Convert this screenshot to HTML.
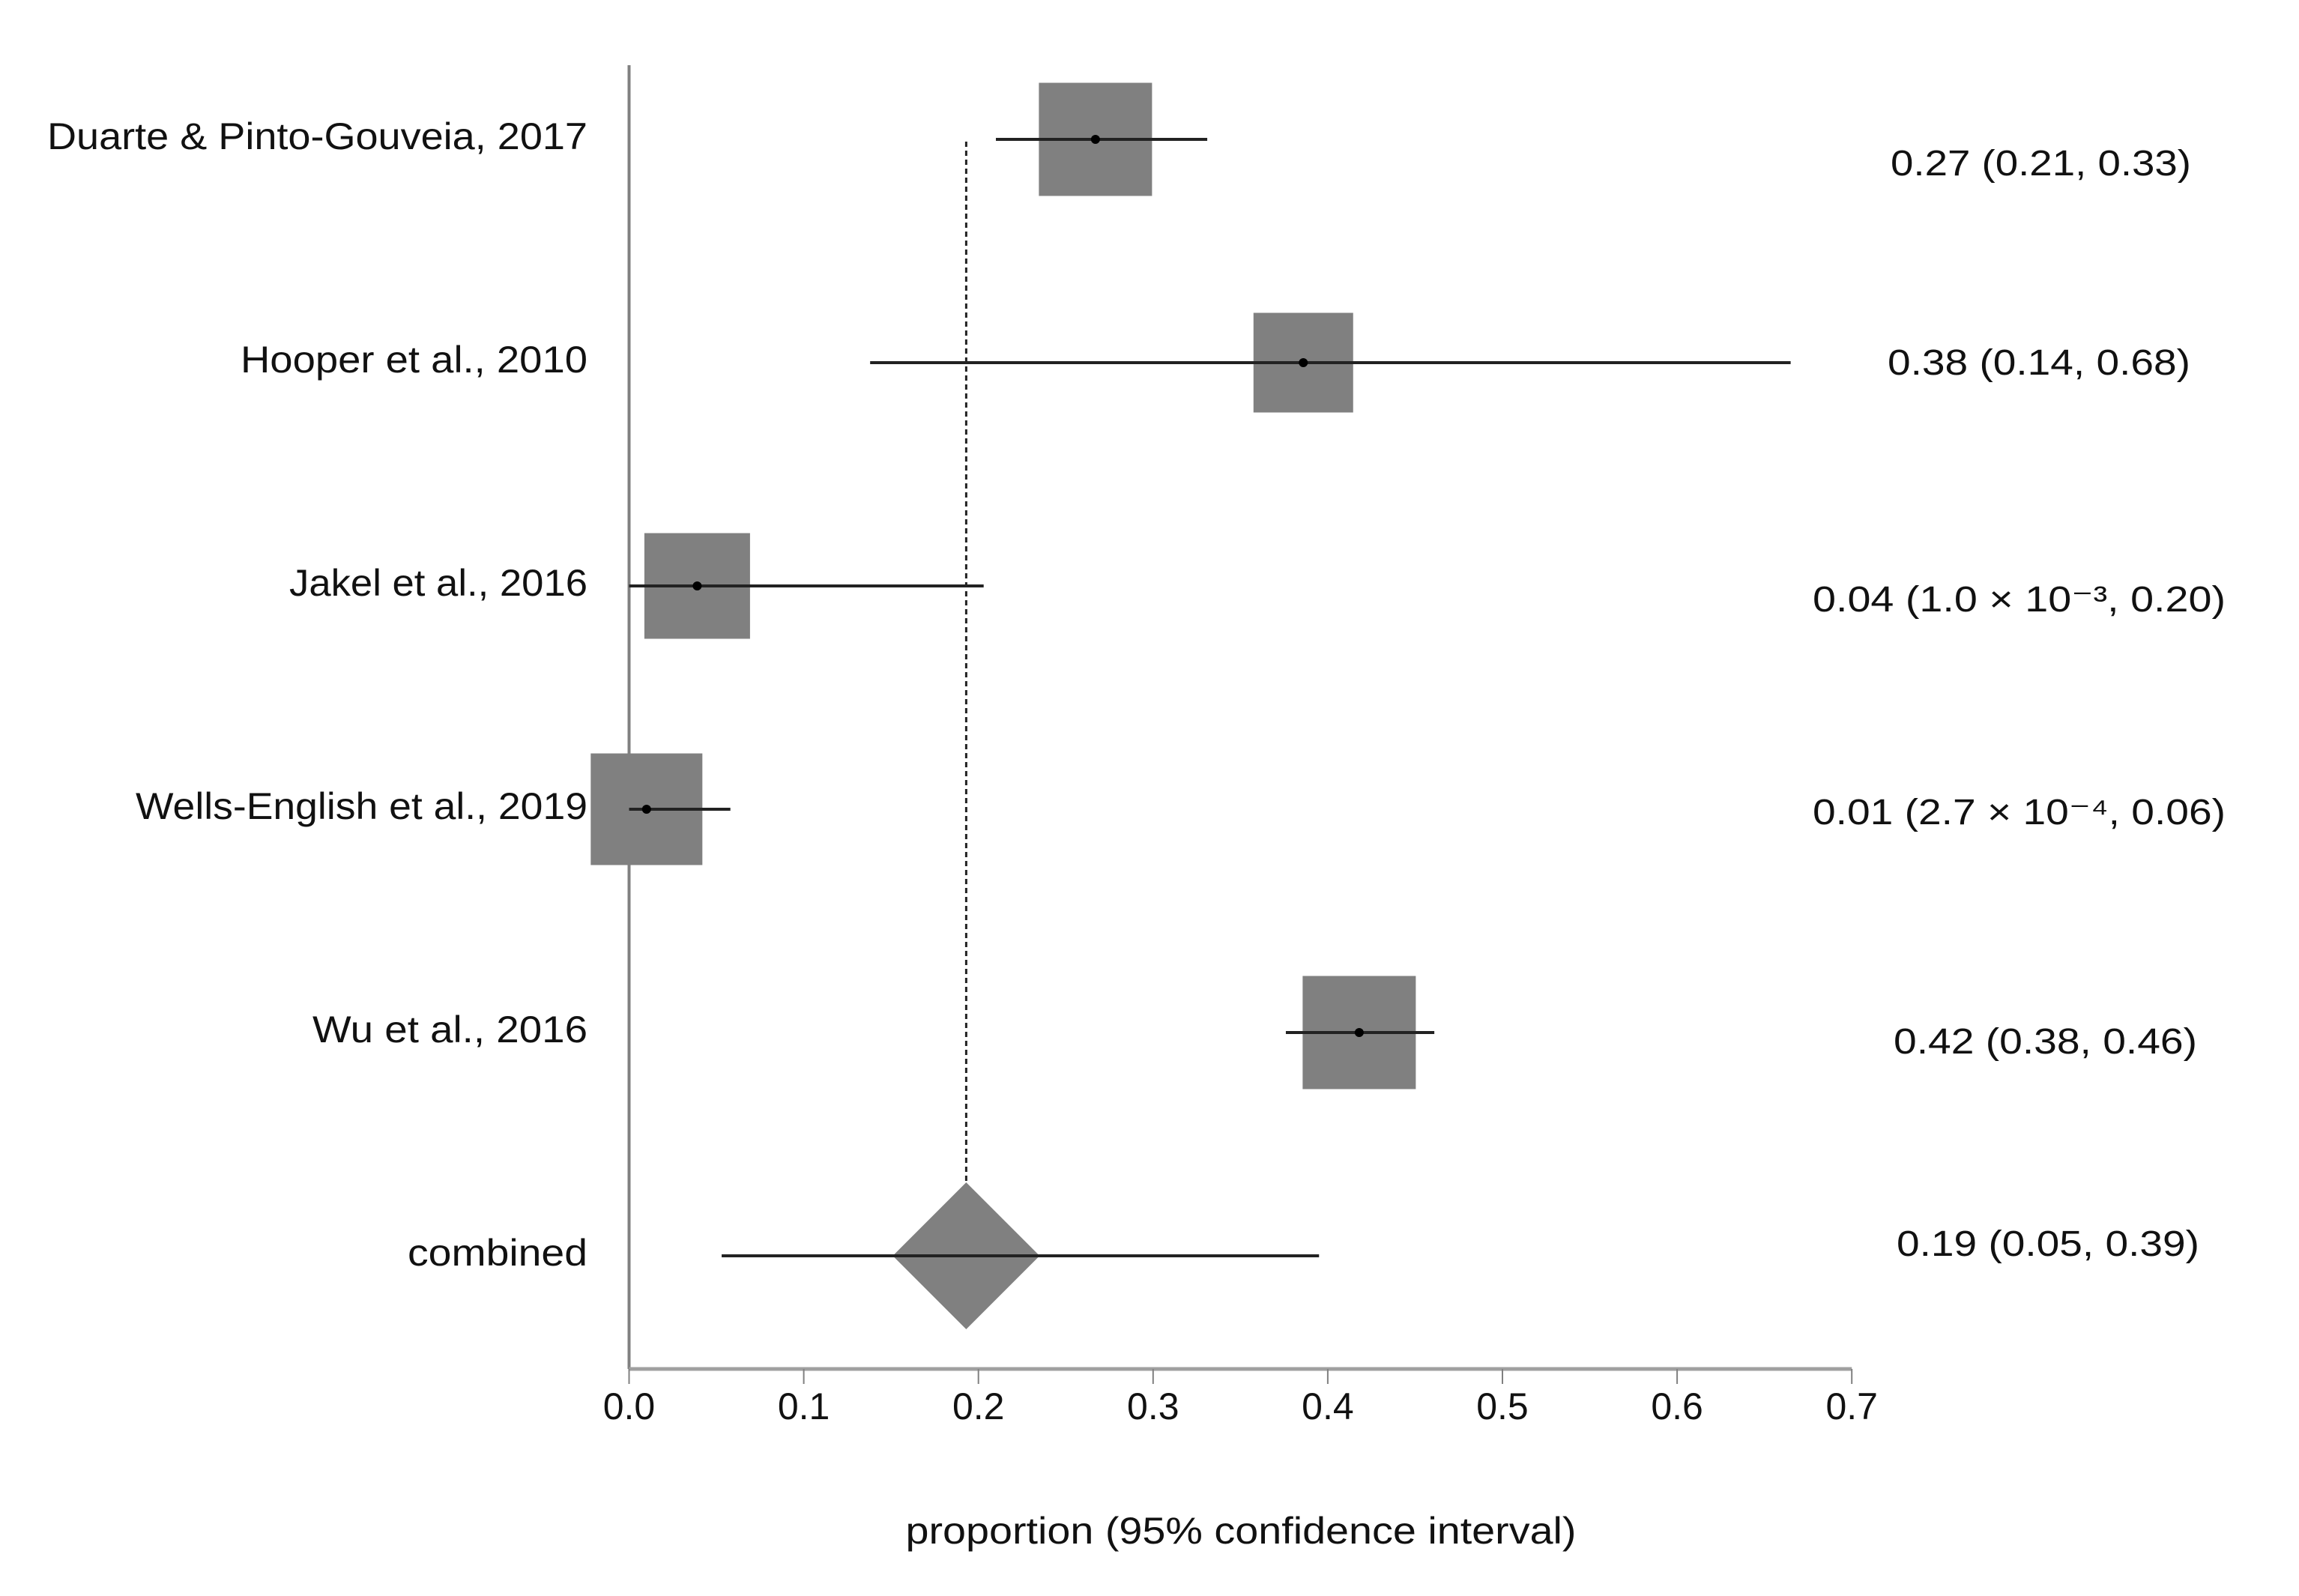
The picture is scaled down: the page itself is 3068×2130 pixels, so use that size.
<!DOCTYPE html>
<html><head><meta charset="utf-8"><style>html,body{margin:0;padding:0;background:#fff}svg{display:block}text{font-family:"Liberation Sans",sans-serif;fill:#111}</style></head>
<body>
<svg id="chart" width="3068" height="2130" viewBox="0 0 3068 2130" xmlns="http://www.w3.org/2000/svg"></svg>
<script>
const studies = ["Duarte & Pinto-Gouveia, 2017","Hooper et al., 2010","Jakel et al., 2016","Wells-English et al., 2019","Wu et al., 2016","combined"];
const estimates = [0.267, 0.386, 0.039, 0.010, 0.418, 0.193];
const lowers = [0.210, 0.138, 0.0, 0.0, 0.376, 0.053];
const uppers = [0.331, 0.665, 0.203, 0.058, 0.461, 0.395];
const weights = [151, 133, 141, 149, 151, 196];
const summaries = ["0.27 (0.21, 0.33)","0.38 (0.14, 0.68)","0.04 (1.0 × 10⁻³, 0.20)","0.01 (2.7 × 10⁻⁴, 0.06)","0.42 (0.38, 0.46)","0.19 (0.05, 0.39)"];
const tickValues = [0,0.1,0.2,0.3,0.4,0.5,0.6,0.7];
const tickLabels = ["0.0","0.1","0.2","0.3","0.4","0.5","0.6","0.7"];

const NS="http://www.w3.org/2000/svg", svg=document.getElementById('chart');
const x0=839.5, xs=2331, axisY=1827;
const xf=v=>x0+v*xs;
const yf=i=>186+i*298;
const sumY=[218,484,800,1084,1390,1660];
const sumW=[401,404,551,551,405,404];
const leftW=[721,463,398,603,367,240];
function mk(tag,attrs,parent){const e=document.createElementNS(NS,tag);for(const k in attrs)e.setAttribute(k,attrs[k]);(parent||svg).appendChild(e);return e;}

let a=mk('line',{x1:x0,y1:87,x2:x0,y2:axisY,stroke:'#808080','stroke-width':4});


a=mk('line',{x1:x0,y1:axisY,x2:xf(0.7),y2:axisY,stroke:'#a0a0a0','stroke-width':5});


tickValues.forEach((v,i)=>{
  const t=mk('line',{x1:xf(v),y1:axisY,x2:xf(v),y2:axisY+20,stroke:'#808080','stroke-width':2});
  
  
  const l=mk('text',{x:xf(v),y:1894,'text-anchor':'middle','font-size':50});
  l.textContent=tickLabels[i];
  
  
});
const title=mk('text',{x:1656,y:2060,'text-anchor':'middle','font-size':50,textLength:895,lengthAdjust:'spacingAndGlyphs'});
title.textContent='proportion (95% confidence interval)';



const n=studies.length-1;
const dl=mk('line',{x1:xf(estimates[n]),y1:189,x2:xf(estimates[n]),y2:yf(n)-weights[n]/2,stroke:'#222','stroke-width':3,'stroke-dasharray':'7,5'});



studies.forEach((s,i)=>{
  const y=yf(i), cx=xf(estimates[i]), w=weights[i];
  if(i<n){
    const r=mk('rect',{x:cx-w/2,y:y-w/2,width:w,height:w,fill:'#808080'});
    
    
  } else {
    const d=mk('polygon',{points:`${cx-w/2},${y} ${cx},${y-w/2} ${cx+w/2},${y} ${cx},${y+w/2}`,fill:'#808080'});
    
    
  }
  const c=mk('line',{x1:xf(lowers[i]),y1:y,x2:xf(uppers[i]),y2:y,stroke:'#222','stroke-width':4});
  
  
  if(i<n){
    const p=mk('circle',{cx:cx,cy:y,r:6,fill:'#000'});
    
    
  }
  const lt=mk('text',{x:784,y:y+13,'text-anchor':'end','font-size':50,textLength:leftW[i],lengthAdjust:'spacingAndGlyphs'});
  lt.textContent=s;
  
  
  const x1={0:2523,1:2519,2:2419,3:2419,4:2527,5:2531}[i];
  const rt=mk('text',{x:x1,y:sumY[i]+16,'font-size':48,textLength:sumW[i],lengthAdjust:'spacingAndGlyphs'});
  rt.textContent=summaries[i];
  
  
});
</script>
</body></html>
